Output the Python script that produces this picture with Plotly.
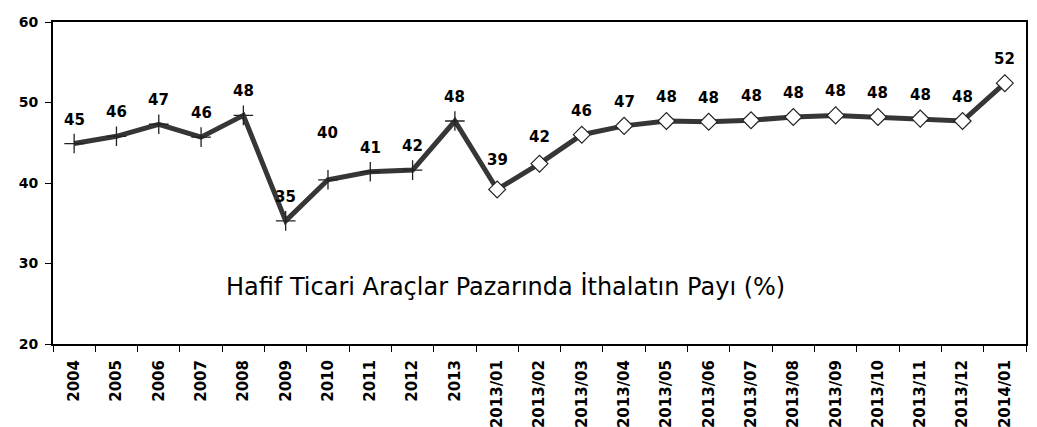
import plotly.graph_objects as go

categories = ["2004", "2005", "2006", "2007", "2008", "2009", "2010", "2011", "2012", "2013",
              "2013/01", "2013/02", "2013/03", "2013/04", "2013/05", "2013/06", "2013/07",
              "2013/08", "2013/09", "2013/10", "2013/11", "2013/12", "2014/01"]
annual_cats = categories[:10]
annual_vals = [44.9, 45.8, 47.3, 45.7, 48.4, 35.3, 40.4, 41.4, 41.6, 47.7]
monthly_cats = categories[10:]
monthly_vals = [39.2, 42.4, 46.0, 47.1, 47.7, 47.6, 47.8, 48.2, 48.4, 48.2, 48.0, 47.7, 52.4]
label_shift = [24, 24, 24, 24, 24, 24, 47, 24, 24, 24,
               29, 27, 24, 24, 24, 24, 24, 24, 24, 24, 24, 24, 24]
title_text = "Hafif Ticari Araçlar Pazarında İthalatın Payı (%)"

LINE = "#363636"
FONT = "DejaVu Sans, sans-serif"

fig = go.Figure()
fig.add_trace(go.Scatter(x=categories, y=annual_vals + monthly_vals, mode="lines",
                         line=dict(color=LINE, width=5), hoverinfo="skip", showlegend=False))
fig.add_trace(go.Scatter(x=annual_cats, y=annual_vals, mode="markers",
                         marker=dict(symbol="cross-thin-open", size=14, color="#222222",
                                     line=dict(color="#222222", width=1.3)),
                         showlegend=False))
fig.add_trace(go.Scatter(x=monthly_cats, y=monthly_vals, mode="markers",
                         marker=dict(symbol="diamond", size=13, color="white",
                                     line=dict(color="#222222", width=1.2)),
                         showlegend=False))

all_vals = annual_vals + monthly_vals
for i, (v, s) in enumerate(zip(all_vals, label_shift)):
    fig.add_annotation(x=i, y=v, text=f"<b>{round(v):d}</b>", showarrow=False,
                       yshift=s, font=dict(size=15, color="black", family=FONT))

fig.add_annotation(x=0.465, y=0.18, xref="paper", yref="paper", text=title_text,
                   showarrow=False, yshift=-17,
                   font=dict(size=24, color="black", family=FONT))

fig.update_xaxes(type="category", categoryorder="array", categoryarray=categories,
                 tickangle=-90, tickson="boundaries", ticks="outside", ticklen=6,
                 tickcolor="black", showline=True, linecolor="black", linewidth=2,
                 mirror=True, showgrid=False, automargin=False, ticklabelstandoff=8,
                 tickfont=dict(size=15, color="black", family=FONT, weight="bold"),
                 range=[-0.5, len(categories) - 0.5])
fig.update_yaxes(range=[20, 60], tickvals=[20, 30, 40, 50, 60], ticks="outside", ticklen=6,
                 tickcolor="black", showline=True, linecolor="black", linewidth=2,
                 mirror=True, showgrid=False, zeroline=False, automargin=False,
                 ticklabelstandoff=4,
                 tickfont=dict(size=14, color="black", family=FONT, weight="bold"))
fig.update_layout(width=1037, height=427, margin=dict(l=53, r=11, t=22, b=83),
                  plot_bgcolor="white", paper_bgcolor="white")
fig.write_html("out.html", config={"displayModeBar": False},
               post_script="document.body.style.margin='0';document.body.style.overflow='hidden';")
